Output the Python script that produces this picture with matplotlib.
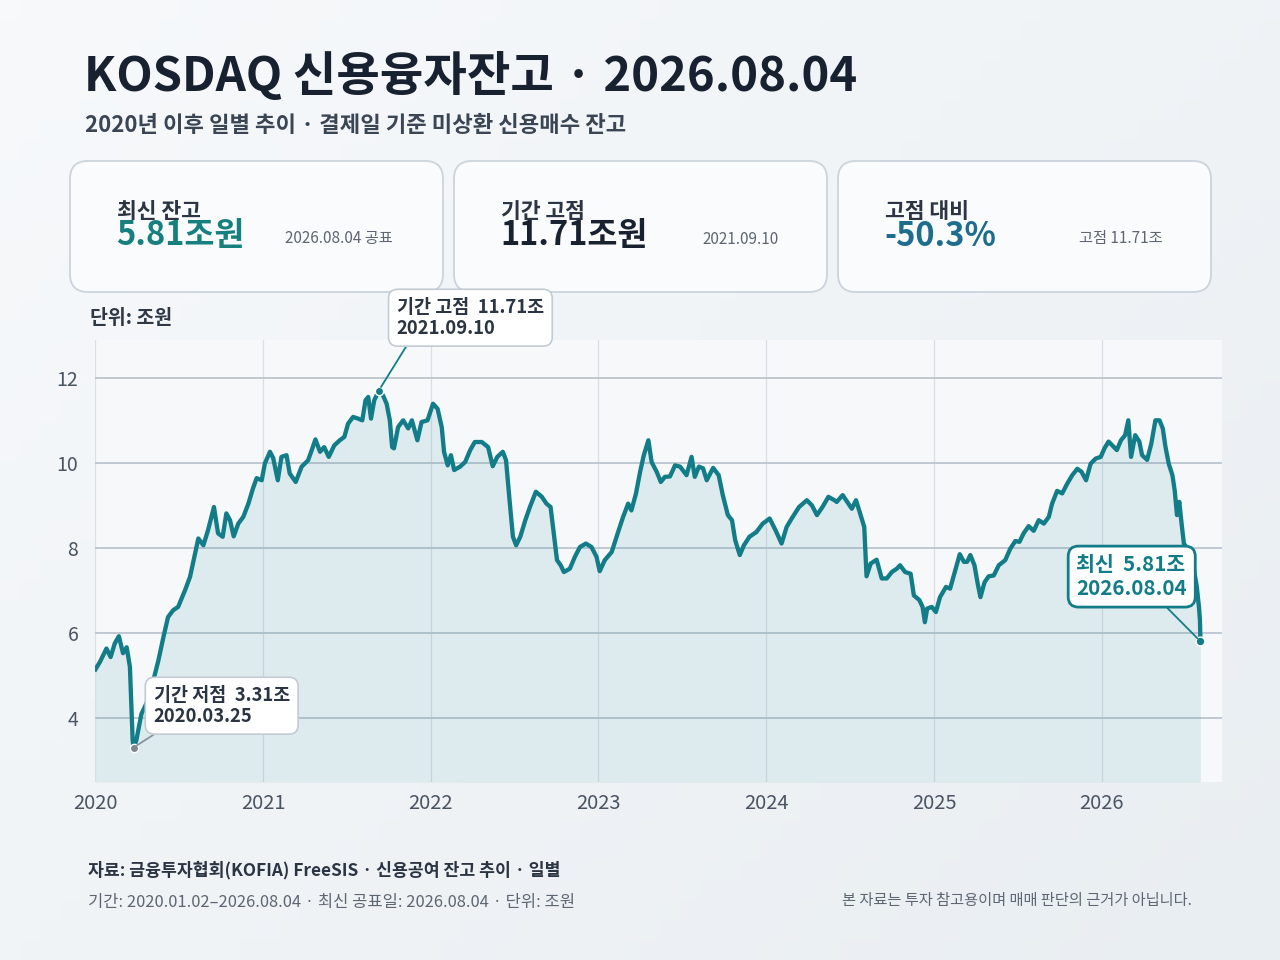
import numpy as np
import pandas as pd
import matplotlib
matplotlib.use("Agg")
import matplotlib.pyplot as plt
from matplotlib.patches import FancyBboxPatch
from matplotlib.colors import LinearSegmentedColormap

plt.rcParams['font.family'] = ['Noto Sans CJK KR', 'DejaVu Sans']

# KOSDAQ 신용융자잔고 (조원), 그림에서 읽은 값
dates = [
    '2020-01-02', '2020-01-12', '2020-01-26', '2020-02-04', '2020-02-13', '2020-02-22', '2020-03-02',
    '2020-03-10', '2020-03-17', '2020-03-23', '2020-03-25', '2020-03-31', '2020-04-11', '2020-04-22',
    '2020-05-07', '2020-05-18', '2020-05-29', '2020-06-08', '2020-06-19', '2020-06-30', '2020-07-15',
    '2020-07-26', '2020-08-06', '2020-08-13', '2020-08-24', '2020-09-03', '2020-09-16', '2020-09-25',
    '2020-10-05', '2020-10-13', '2020-10-21', '2020-10-29', '2020-11-08', '2020-11-19', '2020-11-30',
    '2020-12-10', '2020-12-18', '2020-12-29', '2021-01-05', '2021-01-16', '2021-01-23', '2021-02-02',
    '2021-02-10', '2021-02-21', '2021-02-28', '2021-03-13', '2021-03-26', '2021-04-09', '2021-04-17',
    '2021-04-25', '2021-05-05', '2021-05-14', '2021-05-24', '2021-06-05', '2021-06-17', '2021-06-27',
    '2021-07-05', '2021-07-16', '2021-07-27', '2021-08-05', '2021-08-12', '2021-08-18', '2021-08-24',
    '2021-08-31', '2021-09-10', '2021-09-19', '2021-09-27', '2021-10-04', '2021-10-09', '2021-10-13',
    '2021-10-22', '2021-11-02', '2021-11-13', '2021-11-21', '2021-12-03', '2021-12-12', '2021-12-25',
    '2022-01-06', '2022-01-16', '2022-01-25', '2022-01-30', '2022-02-07', '2022-02-14', '2022-02-21',
    '2022-03-06', '2022-03-17', '2022-03-28', '2022-04-07', '2022-04-22', '2022-05-06', '2022-05-16',
    '2022-05-26', '2022-06-07', '2022-06-14', '2022-06-21', '2022-06-29', '2022-07-06', '2022-07-15',
    '2022-07-26', '2022-08-05', '2022-08-18', '2022-08-31', '2022-09-10', '2022-09-19', '2022-09-26',
    '2022-10-03', '2022-10-11', '2022-10-18', '2022-10-31', '2022-11-11', '2022-11-22', '2022-12-05',
    '2022-12-17', '2022-12-28', '2023-01-04', '2023-01-15', '2023-01-30', '2023-02-13', '2023-02-24',
    '2023-03-07', '2023-03-14', '2023-03-24', '2023-04-02', '2023-04-10', '2023-04-20', '2023-04-27',
    '2023-05-08', '2023-05-17', '2023-05-26', '2023-06-06', '2023-06-17', '2023-06-28', '2023-07-12',
    '2023-07-23', '2023-07-30', '2023-08-08', '2023-08-17', '2023-08-25', '2023-09-08', '2023-09-20',
    '2023-09-29', '2023-10-10', '2023-10-19', '2023-10-26', '2023-11-05', '2023-11-14', '2023-11-26',
    '2023-12-11', '2023-12-25', '2024-01-09', '2024-01-22', '2024-02-04', '2024-02-15', '2024-02-26',
    '2024-03-13', '2024-03-30', '2024-04-10', '2024-04-21', '2024-05-03', '2024-05-16', '2024-05-29',
    '2024-06-03', '2024-06-16', '2024-06-26', '2024-07-06', '2024-07-15', '2024-07-24', '2024-08-02',
    '2024-08-07', '2024-08-16', '2024-08-29', '2024-09-09', '2024-09-20', '2024-10-01', '2024-10-12',
    '2024-10-19', '2024-10-30', '2024-11-11', '2024-11-18', '2024-11-30', '2024-12-07', '2024-12-12',
    '2024-12-17', '2024-12-27', '2025-01-05', '2025-01-14', '2025-01-27', '2025-02-05', '2025-02-14',
    '2025-02-26', '2025-03-07', '2025-03-14', '2025-03-21', '2025-03-30', '2025-04-06', '2025-04-12',
    '2025-04-21', '2025-04-30', '2025-05-11', '2025-05-22', '2025-06-05', '2025-06-16', '2025-06-27',
    '2025-07-06', '2025-07-15', '2025-07-26', '2025-08-06', '2025-08-17', '2025-08-28', '2025-09-08',
    '2025-09-15', '2025-09-26', '2025-10-07', '2025-10-18', '2025-10-29', '2025-11-09', '2025-11-18',
    '2025-11-28', '2025-12-08', '2025-12-19', '2025-12-30', '2026-01-07', '2026-01-16', '2026-01-24',
    '2026-02-03', '2026-02-12', '2026-02-21', '2026-02-28', '2026-03-06', '2026-03-15', '2026-03-24',
    '2026-03-30', '2026-04-10', '2026-04-19', '2026-04-28', '2026-05-07', '2026-05-14', '2026-05-20',
    '2026-05-27', '2026-06-04', '2026-06-09', '2026-06-14', '2026-06-19', '2026-06-24', '2026-06-29',
    '2026-07-04', '2026-07-12', '2026-07-20', '2026-07-27', '2026-08-01', '2026-08-03', '2026-08-04',
]
values = [
    5.15, 5.33, 5.64, 5.44, 5.76, 5.93, 5.53,
    5.67, 5.21, 3.48, 3.31, 3.48, 4.10, 4.35,
    4.89, 5.36, 5.91, 6.38, 6.54, 6.62, 7.01,
    7.33, 7.88, 8.23, 8.07, 8.42, 8.97, 8.35,
    8.27, 8.82, 8.66, 8.28, 8.58, 8.74, 9.05,
    9.41, 9.65, 9.60, 10.00, 10.27, 10.12, 9.60,
    10.15, 10.19, 9.76, 9.56, 9.92, 10.07, 10.31,
    10.56, 10.27, 10.38, 10.15, 10.42, 10.54, 10.62,
    10.93, 11.09, 11.05, 11.01, 11.48, 11.56, 11.05,
    11.48, 11.71, 11.60, 11.40, 11.01, 10.38, 10.35,
    10.85, 11.01, 10.82, 11.01, 10.54, 10.97, 11.01,
    11.40, 11.28, 10.85, 10.27, 9.95, 10.19, 9.84,
    9.92, 10.03, 10.31, 10.50, 10.50, 10.38, 9.93,
    10.15, 10.27, 10.07, 9.21, 8.27, 8.07, 8.27,
    8.66, 8.97, 9.33, 9.21, 9.05, 8.97, 8.35,
    7.72, 7.60, 7.44, 7.52, 7.80, 8.03, 8.11,
    8.03, 7.80, 7.46, 7.72, 7.91, 8.38, 8.74,
    9.05, 8.89, 9.29, 9.80, 10.19, 10.54, 10.03,
    9.80, 9.56, 9.68, 9.69, 9.95, 9.92, 9.72,
    10.15, 9.68, 9.92, 9.88, 9.60, 9.89, 9.72,
    9.25, 8.78, 8.66, 8.19, 7.84, 8.07, 8.27,
    8.38, 8.58, 8.70, 8.42, 8.11, 8.50, 8.70,
    8.97, 9.13, 9.01, 8.78, 8.97, 9.21, 9.13,
    9.09, 9.25, 9.09, 8.93, 9.13, 8.82, 8.50,
    7.34, 7.64, 7.73, 7.29, 7.29, 7.44, 7.52,
    7.60, 7.44, 7.40, 6.89, 6.78, 6.62, 6.26,
    6.58, 6.62, 6.50, 6.85, 7.09, 7.05, 7.40,
    7.86, 7.68, 7.68, 7.84, 7.60, 7.17, 6.85,
    7.20, 7.34, 7.36, 7.60, 7.72, 7.99, 8.17,
    8.15, 8.35, 8.52, 8.41, 8.66, 8.58, 8.74,
    9.05, 9.35, 9.29, 9.52, 9.72, 9.87, 9.80,
    9.60, 9.99, 10.11, 10.15, 10.35, 10.51, 10.42,
    10.31, 10.54, 10.66, 11.01, 10.15, 10.66, 10.51,
    10.19, 10.08, 10.46, 11.01, 11.01, 10.82, 10.38,
    9.99, 9.72, 9.36, 8.78, 9.09, 8.58, 8.11,
    8.03, 7.85, 7.55, 7.10, 6.60, 6.30, 5.81,
]

year_labels = ['2020', '2021', '2022', '2023', '2024', '2025', '2026']
y_ticks = [4, 6, 8, 10, 12]

low_date, low_val = '2020-03-25', 3.31
high_date, high_val = '2021-09-10', 11.71
last_date, last_val = '2026-08-04', 5.81

TEAL = '#127d88'
DARK = '#18212f'
GRAY = '#5d6672'

d = pd.to_datetime(dates)
v = np.array(values)

fig = plt.figure(figsize=(12.8, 9.6), dpi=100)

# background layer, pixel coordinates
bg = fig.add_axes([0, 0, 1, 1], zorder=0)
bg.set_xlim(0, 1280)
bg.set_ylim(960, 0)
bg.axis('off')
gx, gy = np.meshgrid(np.linspace(0, 1, 64), np.linspace(0, 1, 48))
cmap = LinearSegmentedColormap.from_list('bgc', ['#f7f9fb', '#e9eef2'])
bg.imshow(0.55 * gx + 0.45 * gy, extent=[0, 1280, 960, 0], cmap=cmap, aspect='auto')

bg.text(84, 76, 'KOSDAQ 신용융자잔고 · 2026.08.04', fontsize=34, fontweight='bold',
        color=DARK, va='center', ha='left')
bg.text(85, 126, '2020년 이후 일별 추이 · 결제일 기준 미상환 신용매수 잔고', fontsize=16,
        fontweight='bold', color='#3b4655', va='center', ha='left')

cards = [
    (70, '최신 잔고', '5.81조원', '#16807f', '2026.08.04 공표', 285),
    (454, '기간 고점', '11.71조원', DARK, '2021.09.10', 702),
    (838, '고점 대비', '-50.3%', '#1f6d8e', '고점 11.71조', 1079),
]
for x0, lab, val, col, note, nx in cards:
    bg.add_patch(FancyBboxPatch((x0, 161), 373, 131, boxstyle='round,pad=0,rounding_size=18',
                                fc='#fbfcfd', ec='#c9d1da', lw=1.3, alpha=0.95))
    bg.text(x0 + 47, 211, lab, fontsize=15.5, fontweight='bold', color='#2b3543', va='center')
    bg.text(x0 + 46, 236, val, fontsize=23.5, fontweight='bold', color=col, va='center')
    bg.text(nx, 239, note, fontsize=11, color=GRAY, va='center')

bg.text(90, 318, '단위: 조원', fontsize=14, fontweight='bold', color='#2f3946', va='center')

bg.text(88, 870, '자료: 금융투자협회(KOFIA) FreeSIS · 신용공여 잔고 추이 · 일별', fontsize=12.4,
        fontweight='bold', color='#2b3442', va='center')
bg.text(88, 902, '기간: 2020.01.02–2026.08.04 · 최신 공표일: 2026.08.04 · 단위: 조원', fontsize=11.9,
        color=GRAY, va='center')
bg.text(1192, 901, '본 자료는 투자 참고용이며 매매 판단의 근거가 아닙니다.', fontsize=11,
        color=GRAY, va='center', ha='right')

# chart
ax = fig.add_axes([95 / 1280, 1 - 782 / 960, 1127 / 1280, 442 / 960], zorder=2)
ax.set_facecolor('#f6f8fa')
ax.fill_between(d, v, 2.5, color=TEAL, alpha=0.1, lw=0)
ax.plot(d, v, color=TEAL, lw=3.1, solid_joinstyle='round')

ax.set_xlim(pd.Timestamp('2020-01-01'), pd.Timestamp('2026-09-20'))
ax.set_ylim(2.5, 12.9)
ax.set_xticks(pd.to_datetime([y + '-01-01' for y in year_labels]))
ax.set_xticklabels(year_labels)
ax.set_yticks(y_ticks)
ax.set_yticklabels([str(t) for t in y_ticks])
ax.tick_params(axis='both', length=0, colors='#4a5462')
ax.tick_params(axis='x', labelsize=14.5, pad=8)
ax.tick_params(axis='y', labelsize=14, pad=12)
ax.grid(axis='y', color='#bcc6cf', lw=1.3)
ax.grid(axis='x', color='#d8dfe6', lw=0.9)
ax.set_axisbelow(True)
for s in ax.spines.values():
    s.set_visible(False)

# markers and callouts
ax.scatter([pd.Timestamp(low_date)], [low_val], s=36, color='#7d8790', ec='white', lw=1, zorder=5)
ax.scatter([pd.Timestamp(high_date)], [high_val], s=36, color=TEAL, ec='white', lw=1, zorder=5)
ax.scatter([pd.Timestamp(last_date)], [last_val], s=40, color=TEAL, ec='white', lw=1, zorder=5)

ax.annotate('기간 저점  3.31조\n2020.03.25', xy=(pd.Timestamp(low_date), low_val),
            xytext=(20, 62), textcoords='offset pixels', ha='left', va='top',
            fontsize=13.3, fontweight='bold', color='#2b3442', linespacing=1.15,
            bbox=dict(boxstyle='round,pad=0.45,rounding_size=0.5', fc='white', ec='#c3cbd3', lw=1.2),
            arrowprops=dict(arrowstyle='-', color='#8a939c', lw=1.3, relpos=(0.1, 0),
                            shrinkA=0, shrinkB=3),
            annotation_clip=False, zorder=6)
ax.annotate('기간 고점  11.71조\n2021.09.10', xy=(pd.Timestamp(high_date), high_val),
            xytext=(18, 93), textcoords='offset pixels', ha='left', va='top',
            fontsize=13.3, fontweight='bold', color='#2b3442', linespacing=1.15,
            bbox=dict(boxstyle='round,pad=0.45,rounding_size=0.5', fc='white', ec='#c3cbd3', lw=1.2),
            arrowprops=dict(arrowstyle='-', color=TEAL, lw=1.3, relpos=(0.1, 0),
                            shrinkA=0, shrinkB=3),
            annotation_clip=False, zorder=6)
ax.annotate('최신  5.81조\n2026.08.04', xy=(pd.Timestamp(last_date), last_val),
            xytext=(-124, 87), textcoords='offset pixels', ha='left', va='top',
            fontsize=14.8, fontweight='bold', color=TEAL, linespacing=1.15,
            bbox=dict(boxstyle='round,pad=0.4,rounding_size=0.5', fc='white', ec=TEAL, lw=2),
            arrowprops=dict(arrowstyle='-', color=TEAL, lw=1.3, relpos=(0.74, 0),
                            shrinkA=0, shrinkB=3),
            annotation_clip=False, zorder=6)

fig.savefig('out.png', dpi=100)
